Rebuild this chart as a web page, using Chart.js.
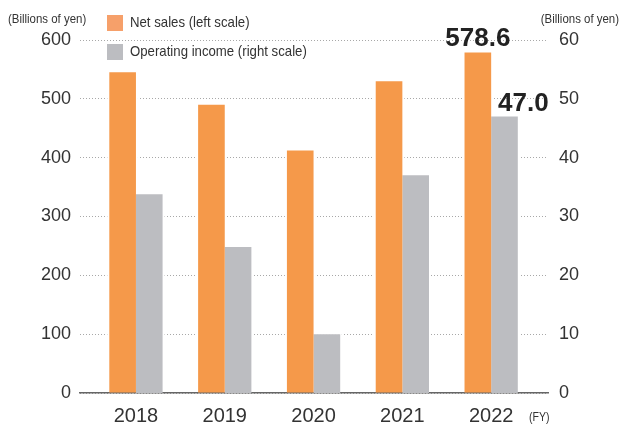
<!DOCTYPE html>
<html>
<head>
<meta charset="utf-8">
<script src="https://cdn.jsdelivr.net/npm/chart.js@4.4.1/dist/chart.umd.min.js"></script>
<style>
  html, body { margin: 0; padding: 0; background: #fff; }
  #wrap { width: 622px; height: 425px; }
</style>
</head>
<body>
<div id="wrap"><canvas id="chart" width="622" height="425"></canvas></div>
<script>
/* ── Data ───────────────────────────────────────────── */
const years      = ['2018', '2019', '2020', '2021', '2022'];
const netSales   = [545, 490, 412, 530, 578.6];   // billions of yen, left scale
const opIncome   = [33.8, 24.8, 10.0, 37.0, 47.0]; // billions of yen, right scale
const leftTicks  = [0, 100, 200, 300, 400, 500, 600];
const rightTicks = [0, 10, 20, 30, 40, 50, 60];
const callouts   = { sales: '578.6', income: '47.0' };

/* ── Styles ─────────────────────────────────────────── */
const ORANGE = '#f5994a';
const GREY   = '#bcbdc1';
const TEXT   = '#333';
const SANS   = "'Liberation Sans', Arial, sans-serif";
const SQUEEZE = 0.88; // captions in the original are set in a condensed face

// draw text squeezed horizontally, anchored at x
function narrowText(ctx, str, x, y, align = 'left') {
  ctx.save();
  ctx.translate(x, y);
  ctx.scale(SQUEEZE, 1);
  ctx.textAlign = align;
  ctx.fillText(str, 0, 0);
  ctx.restore();
}

// white halo behind bars so the dotted grid stops short of them
const barHalo = {
  id: 'barHalo',
  beforeDatasetsDraw(chart) {
    const ctx = chart.ctx;
    ctx.save();
    ctx.fillStyle = '#fff';
    chart.data.datasets.forEach((_, di) => {
      chart.getDatasetMeta(di).data.forEach(b => {
        const w = b.width / 2;
        ctx.fillRect(b.x - w - 2, b.y, b.width + 4, b.base - b.y - 1);
      });
    });
    ctx.restore();
  }
};

// legend, unit captions, FY mark and the two callouts
const decorations = {
  id: 'decorations',
  afterDraw(chart) {
    const ctx = chart.ctx;
    ctx.save();

    // unit captions
    ctx.fillStyle = TEXT;
    ctx.font = `13px ${SANS}`;
    ctx.textBaseline = 'middle';
    narrowText(ctx, '(Billions of yen)', 8, 19);
    narrowText(ctx, '(Billions of yen)', 619, 19, 'right');

    // legend
    ctx.fillStyle = '#f6a06a';
    ctx.fillRect(107, 15, 16, 16);
    ctx.fillStyle = GREY;
    ctx.fillRect(107, 44, 16, 16);
    ctx.fillStyle = TEXT;
    ctx.font = `15px ${SANS}`;
    narrowText(ctx, 'Net sales (left scale)', 130, 23);
    narrowText(ctx, 'Operating income (right scale)', 130, 52);

    // FY mark
    ctx.font = `12px ${SANS}`;
    narrowText(ctx, '(FY)', 529, 418);

    // callouts on the last year
    const last = years.length - 1;
    const s = chart.getDatasetMeta(0).data[last];
    const g = chart.getDatasetMeta(1).data[last];
    ctx.fillStyle = '#222';
    ctx.font = `bold 26px ${SANS}`;
    ctx.textBaseline = 'alphabetic';
    ctx.textAlign = 'center';
    ctx.fillText(callouts.sales, s.x, s.y - 7);
    ctx.textAlign = 'left';
    ctx.fillText(callouts.income, g.x - 6.5, g.y - 5.5);

    ctx.restore();
  }
};

/* ── Chart ──────────────────────────────────────────── */
new Chart(document.getElementById('chart'), {
  type: 'bar',
  data: {
    datasets: [
      {
        label: 'Net sales (left scale)',
        data: netSales.map((v, i) => ({ x: i, y: v })),
        backgroundColor: ORANGE,
        yAxisID: 'yL',
      },
      {
        label: 'Operating income (right scale)',
        data: opIncome.map((v, i) => ({ x: i, y: v })),
        backgroundColor: GREY,
        yAxisID: 'yR',
      },
    ],
  },
  options: {
    responsive: false,
    animation: false,
    layout: { padding: { top: 40, left: 0, right: 0, bottom: 0 } },
    datasets: { bar: { barPercentage: 1, categoryPercentage: 0.6 } },
    plugins: { legend: { display: false }, tooltip: { enabled: false } },
    scales: {
      x: {
        type: 'linear',
        offset: false,
        min: -0.63,
        max: 4.64,
        afterBuildTicks: s => { s.ticks = years.map((_, i) => ({ value: i })); },
        afterFit: s => { s.height = 32; },
        ticks: {
          callback: v => years[v] ?? '',
          color: TEXT,
          font: { family: SANS, size: 20 },
          padding: 11,
          maxRotation: 0,
        },
        grid: { display: false, drawTicks: false, offset: false },
        border: { color: '#666', width: 1.5 },
      },
      yL: {
        position: 'left',
        min: 0,
        max: 600,
        afterBuildTicks: s => { s.ticks = leftTicks.map(v => ({ value: v })); },
        afterFit: s => { s.width = 80; },
        ticks: { color: TEXT, font: { family: SANS, size: 18 }, padding: 9 },
        grid: { color: '#a8a8a8', lineWidth: 1, drawTicks: false },
        border: { display: false, dash: [1, 2] },
      },
      yR: {
        position: 'right',
        min: 0,
        max: 60,
        afterBuildTicks: s => { s.ticks = rightTicks.map(v => ({ value: v })); },
        afterFit: s => { s.width = 74; },
        ticks: { color: TEXT, font: { family: SANS, size: 18 }, padding: 11 },
        grid: { display: false, drawTicks: false },
        border: { display: false },
      },
    },
  },
  plugins: [barHalo, decorations],
});
</script>
</body>
</html>
